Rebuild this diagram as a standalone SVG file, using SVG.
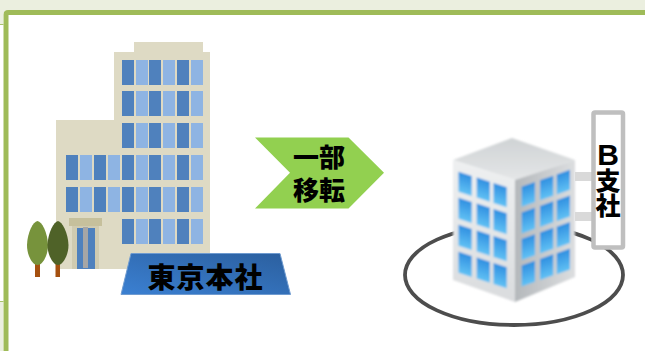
<svg xmlns="http://www.w3.org/2000/svg" width="645" height="351" viewBox="0 0 645 351">
<style>
text{font-family:"Noto Sans CJK JP","Liberation Sans",sans-serif;font-weight:900;fill:#000;text-anchor:middle}
.d{fill:#4f81bd}.l{fill:#8eb4e3}.w{fill:#dedac4}
</style>
<defs>
<linearGradient id="lab" x1="0" y1="1" x2="1" y2="0"><stop offset="0" stop-color="#3b80d2"/><stop offset="1" stop-color="#2b5f9e"/></linearGradient>
<linearGradient id="win" x1="0" y1="0" x2="0" y2="1"><stop offset="0" stop-color="#2f8fe0"/><stop offset="1" stop-color="#62c2f5"/></linearGradient>
<linearGradient id="lf" x1="0" y1="0" x2="0" y2="1"><stop offset="0" stop-color="#eef0f1"/><stop offset="1" stop-color="#dadcde"/></linearGradient>
<linearGradient id="rf" x1="0" y1="0" x2="1" y2="0"><stop offset="0" stop-color="#b4b8bb"/><stop offset="1" stop-color="#dcdee0"/></linearGradient>
<linearGradient id="tf" x1="0" y1="0" x2="0" y2="1"><stop offset="0" stop-color="#cfd3d5"/><stop offset="1" stop-color="#e4e6e7"/></linearGradient>
<filter id="soft" x="-5%" y="-5%" width="110%" height="110%"><feGaussianBlur stdDeviation="0.9"/></filter>
<g id="row6"><rect class="d" x="122" width="12" height="25"/><rect class="l" x="136" width="12" height="25"/><rect class="d" x="149" width="12" height="25"/><rect class="l" x="163" width="12" height="25"/><rect class="d" x="177" width="12" height="25"/><rect class="l" x="191" width="12" height="25"/></g>
<g id="row4"><rect class="d" x="66" width="12" height="25"/><rect class="l" x="80" width="12" height="25"/><rect class="d" x="94" width="12" height="25"/><rect class="l" x="108" width="12" height="25"/></g>
</defs>
<rect width="645" height="351" fill="#fff"/>
<g id="frame">
<path d="M0 0H645V10H6L3 13V24H0ZM0 302H3V351H0Z" fill="#ebefdf"/>
<path d="M0 24.500H3.500M0 301.500H3.500" stroke="#a9c46c" stroke-width="1.200" fill="none"/>
<path d="M645 12.500H8Q6 12.500 6 14.500V351" stroke="#9fbb58" stroke-width="5" fill="none"/>
</g>
<g id="tokyo-building">
<rect class="w" x="134" y="42" width="69" height="11"/>
<rect class="w" x="114" y="52" width="96" height="201"/>
<rect class="w" x="56" y="120" width="154" height="149"/>
<use href="#row6" y="60"/><use href="#row6" y="91"/><use href="#row6" y="123"/><use href="#row6" y="155"/><use href="#row6" y="187"/><use href="#row6" y="219"/>
<use href="#row4" y="155"/><use href="#row4" y="187"/>
<rect x="72" y="226" width="27" height="43" fill="#d0cbb0"/>
<rect x="69" y="218" width="33" height="8" fill="#c6c09c"/>
<rect x="77" y="228" width="18" height="41" fill="#4f81bd"/>
<rect x="83" y="227" width="5" height="41" fill="#a6a6a6"/>
</g>
<g id="trees">
<rect x="35" y="264" width="5" height="13" fill="#a5500f"/>
<rect x="55.500" y="264" width="4.500" height="13" fill="#a5500f"/>
<path d="M37.500 221C42 222 47.500 232 48 245C48 255 43 265 37.500 265C32 265 27 255 27 245C27.500 232 33 222 37.500 221Z" fill="#77933c"/>
<path d="M58 221C62 222 68 232 68.500 245C68.500 255 63 265 58 265C53 265 47.500 255 47.500 245C48 232 54 222 58 221Z" fill="#4f6228"/>
</g>
<g id="tokyo-label">
<path d="M131 253.500H280L290.500 294.500H121Z" fill="url(#lab)" stroke="#6f9bd0" stroke-width="1"/>
<text x="205.500" y="288" font-size="28" letter-spacing="1">東京本社</text>
</g>
<g id="connectors">
<path id="move-arrow" d="M255 137.500H348.500L384 172.700L348.500 208.500H255L290 172.700Z" fill="#92d050"/>
<text font-size="26"><tspan x="319" y="167">一部</tspan><tspan x="319" y="200">移転</tspan></text>
</g>
<g id="b-branch">
<ellipse cx="514" cy="275" rx="109" ry="50" fill="none" stroke="#4d4d4d" stroke-width="3.800"/>
<g filter="url(#soft)">
<path d="M453 160L512 138L575 160L515 180Z" fill="url(#tf)"/>
<path d="M453 160L515 180V302L453 280Z" fill="url(#lf)"/>
<path d="M515 180L575 160V277L515 302Z" fill="url(#rf)"/>
<g transform="matrix(1 .32 0 1 0 0)" fill="url(#win)">
<rect x="458.500" y="25" width="13.200" height="20"/><rect x="458.500" y="51" width="13.200" height="21"/><rect x="458.500" y="78" width="13.200" height="21"/><rect x="458.500" y="105" width="13.200" height="21"/>
<rect x="476.700" y="25" width="13.200" height="20"/><rect x="476.700" y="51" width="13.200" height="21"/><rect x="476.700" y="78" width="13.200" height="21"/><rect x="476.700" y="105" width="13.200" height="21"/>
<rect x="493.500" y="25" width="13.200" height="20"/><rect x="493.500" y="51" width="13.200" height="21"/><rect x="493.500" y="78" width="13.200" height="21"/><rect x="493.500" y="105" width="13.200" height="21"/>
</g>
<g transform="matrix(1 -.35 0 1 0 0)" fill="url(#win)">
<rect x="521.700" y="369.300" width="13.300" height="20"/><rect x="521.700" y="395" width="13.300" height="21"/><rect x="521.700" y="421.500" width="13.300" height="21"/><rect x="521.700" y="448" width="13.300" height="21"/>
<rect x="540" y="369.300" width="13.300" height="20"/><rect x="540" y="395" width="13.300" height="21"/><rect x="540" y="421.500" width="13.300" height="21"/><rect x="540" y="448" width="13.300" height="21"/>
<rect x="556.700" y="369.300" width="13.300" height="20"/><rect x="556.700" y="395" width="13.300" height="21"/><rect x="556.700" y="421.500" width="13.300" height="21"/><rect x="556.700" y="448" width="13.300" height="21"/>
</g>
</g>
<rect x="575" y="172" width="19" height="9" fill="#d9d9d9"/>
<rect x="575" y="212" width="19" height="9" fill="#d9d9d9"/>
<rect x="593.500" y="112.500" width="29.500" height="135" rx="1.500" fill="#fff" stroke="#bfbfbf" stroke-width="4.500"/>
<text font-size="25"><tspan x="608" y="165" font-size="30" style="font-family:'Liberation Sans',sans-serif;font-weight:700">B</tspan><tspan x="608" y="190">支</tspan><tspan x="608" y="215">社</tspan></text>
</g>
</svg>
